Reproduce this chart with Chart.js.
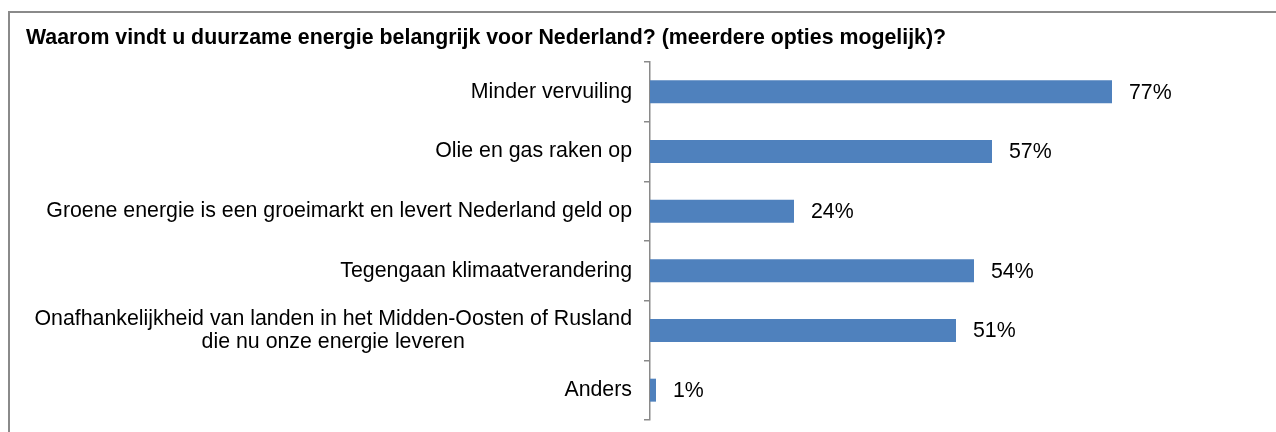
<!DOCTYPE html>
<html>
<head>
<meta charset="utf-8">
<script src="https://cdn.jsdelivr.net/npm/chart.js@4/dist/chart.umd.min.js"></script>
<style>
  html, body { margin: 0; padding: 0; background: #fff; overflow: hidden; }
  #wrap { position: relative; width: 1276px; height: 432px; }
  #frame { position: absolute; left: 8px; top: 11px; width: 1400px; height: 600px;
           border-top: 2px solid #8a8a8a; border-left: 2px solid #8a8a8a; pointer-events: none; }
  canvas { position: absolute; left: 0; top: 0; }
</style>
</head>
<body>
<div id="wrap">
  <canvas id="c" width="1276" height="432"></canvas>
  <div id="frame"></div>
</div>
<script>
const title = "Waarom vindt u duurzame energie belangrijk voor Nederland? (meerdere opties mogelijk)?";
const categories = [
  "Minder vervuiling",
  "Olie en gas raken op",
  "Groene energie is een groeimarkt en levert Nederland geld op",
  "Tegengaan klimaatverandering",
  ["Onafhankelijkheid van landen in het Midden-Oosten of Rusland", "die nu onze energie leveren"],
  "Anders"
];
const values = [77, 57, 24, 54, 51, 1];
const xMin = 0;
const xMax = 100;

const FONT = '"Liberation Sans", Arial, sans-serif';

const labelPlugin = {
  id: 'labels',
  afterDraw(chart) {
    const ctx = chart.ctx;
    const yScale = chart.scales.y;
    const meta = chart.getDatasetMeta(0);
    ctx.save();
    // title
    ctx.fillStyle = '#000';
    ctx.font = 'bold 21.33px ' + FONT;
    ctx.textAlign = 'left';
    ctx.textBaseline = 'alphabetic';
    ctx.fillText(title, 26, 44);
    // category labels
    ctx.font = '21.33px ' + FONT;
    ctx.textBaseline = 'middle';
    ctx.textAlign = 'center';
    const right = chart.chartArea.left - 18;
    const lh = 23;
    categories.forEach((lab, i) => {
      const lines = Array.isArray(lab) ? lab : [lab];
      const w = Math.max(...lines.map(l => ctx.measureText(l).width));
      const cx = right - w / 2;
      const cy = yScale.getPixelForValue(i);
      lines.forEach((l, k) => {
        ctx.fillText(l, cx, cy + (k - (lines.length - 1) / 2) * lh);
      });
    });
    // value labels
    ctx.textAlign = 'left';
    meta.data.forEach((bar, i) => {
      ctx.fillText(values[i] + '%', bar.x + 17, bar.y + 1);
    });
    ctx.restore();
  }
};

new Chart(document.getElementById('c'), {
  type: 'bar',
  data: {
    labels: categories,
    datasets: [{
      data: values,
      backgroundColor: '#4F81BD',
      borderWidth: 0,
      categoryPercentage: 1,
      barPercentage: 0.385
    }]
  },
  options: {
    indexAxis: 'y',
    responsive: false,
    animation: false,
    layout: { padding: { top: 62, bottom: 12, left: 0, right: 26 } },
    plugins: { legend: { display: false }, tooltip: { enabled: false }, title: { display: false } },
    scales: {
      x: { display: false, min: xMin, max: xMax },
      y: {
        afterFit(scale) { scale.width = 650; },
        ticks: { display: false },
        grid: { display: true, drawOnChartArea: false, drawTicks: true, tickLength: 6, color: '#8a8a8a', lineWidth: 1.5, offset: true },
        border: { display: true, color: '#8a8a8a', width: 1.5 }
      }
    }
  },
  plugins: [labelPlugin]
});
</script>
</body>
</html>
